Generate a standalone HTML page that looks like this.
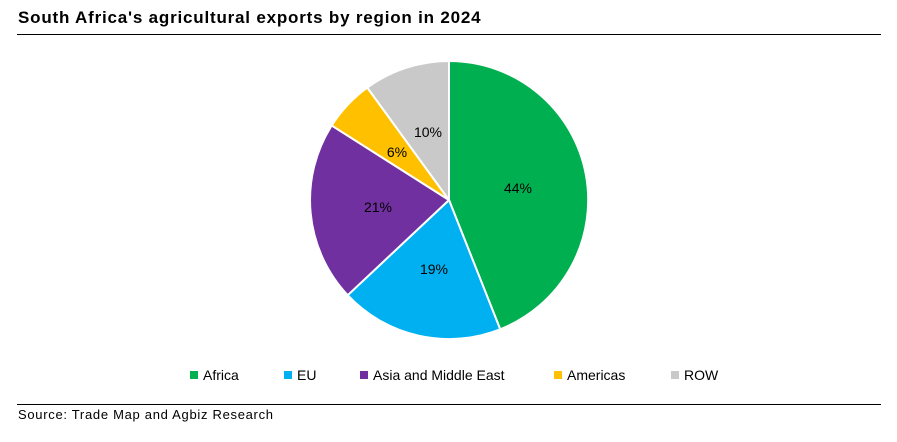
<!DOCTYPE html>
<html><head><meta charset="utf-8"><style>
html,body{margin:0;padding:0;background:#fff;}
body{width:897px;height:442px;position:relative;overflow:hidden;font-family:"Liberation Sans",Arial,sans-serif;}
.t{position:absolute;left:18px;top:8px;font-size:17px;letter-spacing:0.8px;font-weight:bold;color:#000;white-space:nowrap;}
.l1{position:absolute;left:17px;top:34px;width:864px;height:1px;background:#000;}
.l2{position:absolute;left:17px;top:404px;width:864px;height:1px;background:#000;}
.s{position:absolute;left:18px;top:407px;font-size:13px;letter-spacing:0.7px;color:#000;white-space:nowrap;}
</style></head><body>
<div class="t">South Africa's agricultural exports by region in 2024</div>
<div class="l1"></div>
<svg width="897" height="442" style="position:absolute;left:0;top:0" font-family="Liberation Sans, Arial, sans-serif">
<g stroke="#fff" stroke-width="2" stroke-linejoin="round">
<path d="M449,200 L449,61 A139,139 0 0 1 500.2,329.3 Z" fill="#00b050"/>
<path d="M449,200 L500.2,329.3 A139,139 0 0 1 347.7,295.2 Z" fill="#00b0f0"/>
<path d="M449,200 L347.7,295.2 A139,139 0 0 1 331.7,125.5 Z" fill="#7030a0"/>
<path d="M449,200 L331.7,125.5 A139,139 0 0 1 367.3,87.6 Z" fill="#ffc000"/>
<path d="M449,200 L367.3,87.6 A139,139 0 0 1 449,61 Z" fill="#c9c9c9"/>
</g>
<g font-size="14" fill="#000" text-anchor="middle">
<text x="518" y="193">44%</text>
<text x="434" y="274">19%</text>
<text x="378" y="212">21%</text>
<text x="397" y="157">6%</text>
<text x="428" y="137">10%</text>
</g>
<g font-size="14" fill="#000">
<rect x="190" y="371" width="8" height="8" fill="#00b050"/><text x="203" y="380">Africa</text>
<rect x="284" y="371" width="8" height="8" fill="#00b0f0"/><text x="297" y="380">EU</text>
<rect x="360" y="371" width="8" height="8" fill="#7030a0"/><text x="373" y="380">Asia and Middle East</text>
<rect x="554" y="371" width="8" height="8" fill="#ffc000"/><text x="567" y="380">Americas</text>
<rect x="671" y="371" width="8" height="8" fill="#c9c9c9"/><text x="684" y="380">ROW</text>
</g>
</svg>
<div class="l2"></div>
<div class="s">Source: Trade Map and Agbiz Research</div>
</body></html>
